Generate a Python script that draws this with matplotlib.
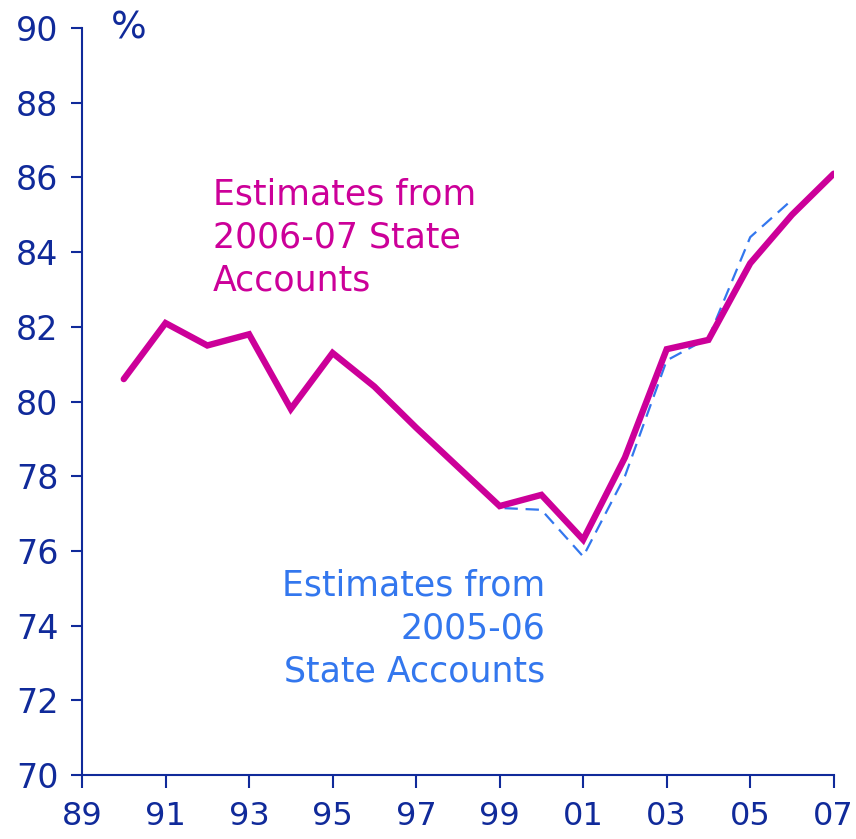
import matplotlib
matplotlib.use("Agg")
import matplotlib.pyplot as plt

years = [1990, 1991, 1992, 1993, 1994, 1995, 1996, 1997, 1998, 1999, 2000, 2001, 2002, 2003, 2004, 2005, 2006, 2007]
est_2006_07 = [80.6, 82.1, 81.5, 81.8, 79.8, 81.3, 80.4, 79.3, 78.25, 77.2, 77.5, 76.3, 78.5, 81.4, 81.65, 83.7, 85.0, 86.1]

years_old = [1990, 1991, 1992, 1993, 1994, 1995, 1996, 1997, 1998, 1999, 2000, 2001, 2002, 2003, 2004, 2005, 2006]
est_2005_06 = [80.6, 82.1, 81.5, 81.8, 79.8, 81.3, 80.4, 79.3, 78.25, 77.15, 77.1, 75.85, 78.0, 81.1, 81.7, 84.4, 85.4]

xtick_vals = [1989, 1991, 1993, 1995, 1997, 1999, 2001, 2003, 2005, 2007]
xtick_labels = ["89", "91", "93", "95", "97", "99", "01", "03", "05", "07"]
ytick_vals = [70, 72, 74, 76, 78, 80, 82, 84, 86, 88, 90]

AX = "#102a9a"
MAG = "#cc0099"
BLU = "#3377ee"

plt.rcParams['font.family'] = ['DejaVu Sans']

fig = plt.figure(figsize=(8.56, 8.39), dpi=100)
ax = fig.add_axes([0.0958, 0.0763, 0.8782, 0.8903])

ax.plot(years_old, est_2005_06, color=BLU, lw=1.6, dashes=(6, 3.5), zorder=2)
ax.plot(years, est_2006_07, color=MAG, lw=4.6, solid_joinstyle='miter', solid_capstyle='round', zorder=3)

ax.set_xlim(1989, 2007)
ax.set_ylim(70, 90)
ax.set_xticks(xtick_vals)
ax.set_xticklabels(xtick_labels)
ax.set_yticks(ytick_vals)

for s in ['top', 'right']:
    ax.spines[s].set_visible(False)
for s in ['left', 'bottom']:
    ax.spines[s].set_color(AX)
    ax.spines[s].set_linewidth(1.5)

ax.tick_params(axis='x', direction='out', length=9, width=1.5, color=AX, labelcolor=AX, labelsize=23, pad=10)
ax.tick_params(axis='y', direction='out', length=8, width=1.5, color=AX, labelcolor=AX, labelsize=24, pad=9)

ax.text(1989.7, 90.0, "%", color=AX, fontsize=27, ha='left', va='center')

ax.text(1992.13, 86.0, "Estimates from\n2006-07 State\nAccounts", color=MAG, fontsize=25,
        ha='left', va='top', linespacing=1.33)
ax.text(2000.1, 75.52, "Estimates from\n2005-06\nState Accounts", color=BLU, fontsize=25,
        ha='right', va='top', multialignment='right', linespacing=1.33)

fig.savefig("out.png", dpi=100)
